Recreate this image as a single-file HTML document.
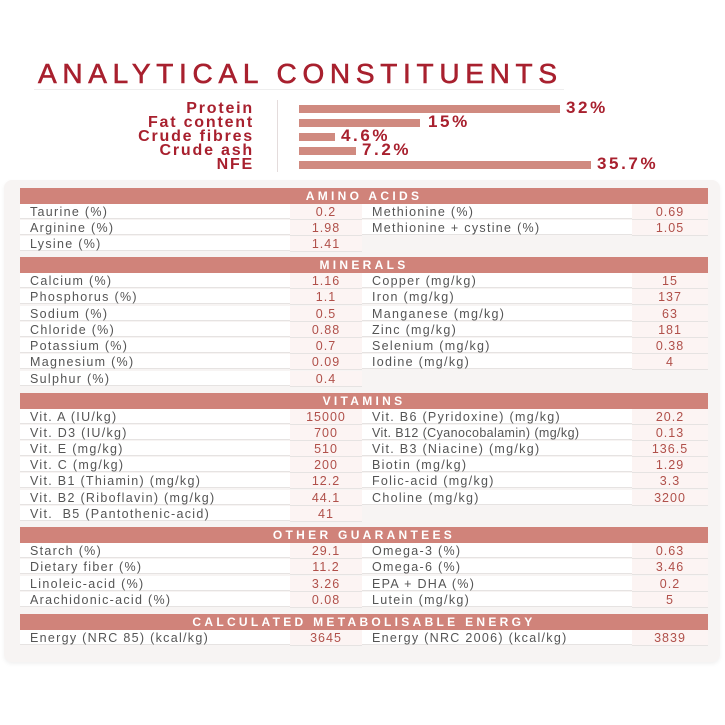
<!DOCTYPE html>
<html><head><meta charset="utf-8"><style>
body{margin:0;width:725px;height:725px;background:#fff;position:relative;overflow:hidden;font-family:"Liberation Sans",sans-serif}
.a{position:absolute}
.panel{left:4px;top:180px;width:716px;height:482px;background:#f7f4f3;border-radius:8px;box-shadow:0 2px 4px rgba(0,0,0,.06)}
.title{left:38px;top:58px;font-size:28px;color:#a8202e;letter-spacing:5.7px;white-space:nowrap;-webkit-text-stroke:0.6px #a8202e}
.uline{left:34px;top:89px;width:530px;height:1px;background:#eee}
.bl{right:471px;font-size:16px;font-weight:bold;color:#a8202e;text-align:right;line-height:14px;letter-spacing:1.8px;white-space:nowrap}
.bar{left:299px;height:8px;background:#d08a80}
.bv{font-size:17px;font-weight:bold;color:#a8202e;line-height:14px;letter-spacing:2.6px}
.hd{left:20px;width:688px;height:16px;background:#d0837a;color:#fff;font-size:12px;font-weight:bold;letter-spacing:3.3px;text-align:center;line-height:16px}
.row{left:20px;width:688px;height:16px;font-size:12.5px;color:#555;line-height:16px;letter-spacing:1.3px;white-space:nowrap}
.row div{position:absolute;top:0;height:15px;border-bottom:1px solid #e6e3e2}
.c1{left:0;width:270px;background:#fff;padding-left:10px;box-sizing:border-box}
.c2{left:270px;width:72px;background:#fcf4f3;text-align:center;color:#b0504a;letter-spacing:1px}
.c3{left:342px;width:270px;background:#fff;padding-left:10px;box-sizing:border-box}
.c4{left:612px;width:76px;background:#fcf4f3;text-align:center;color:#b0504a;letter-spacing:1px}
</style></head><body>
<div class="a panel"></div>
<div class="a title">ANALYTICAL CONSTITUENTS</div>
<div class="a uline"></div>
<div class="a" style="left:277px;top:100px;width:1px;height:72px;background:#e4dcdc"></div>
<div class="a bl" style="top:102px">Protein</div>
<div class="a bl" style="top:116px">Fat content</div>
<div class="a bl" style="top:130px">Crude fibres</div>
<div class="a bl" style="top:144px">Crude ash</div>
<div class="a bl" style="top:158px">NFE</div>
<div class="a bar" style="top:105px;width:261px"></div><div class="a bv" style="left:566px;top:101px">32%</div>
<div class="a bar" style="top:119px;width:121px"></div><div class="a bv" style="left:428px;top:115px">15%</div>
<div class="a bar" style="top:133px;width:36px"></div><div class="a bv" style="left:341px;top:129px">4.6%</div>
<div class="a bar" style="top:147px;width:57px"></div><div class="a bv" style="left:362px;top:143px">7.2%</div>
<div class="a bar" style="top:161px;width:292px"></div><div class="a bv" style="left:597px;top:157px">35.7%</div>

<div class="a hd" style="top:188px">AMINO ACIDS</div>
<div class="a row" style="top:204px"><div class="c1">Taurine (%)</div><div class="c2">0.2</div><div class="c3">Methionine (%)</div><div class="c4">0.69</div></div>
<div class="a row" style="top:220px"><div class="c1">Arginine (%)</div><div class="c2">1.98</div><div class="c3">Methionine + cystine (%)</div><div class="c4">1.05</div></div>
<div class="a row" style="top:236px"><div class="c1">Lysine (%)</div><div class="c2">1.41</div></div>

<div class="a hd" style="top:257px">MINERALS</div>
<div class="a row" style="top:273px"><div class="c1">Calcium (%)</div><div class="c2">1.16</div><div class="c3">Copper (mg/kg)</div><div class="c4">15</div></div>
<div class="a row" style="top:289px"><div class="c1">Phosphorus (%)</div><div class="c2">1.1</div><div class="c3">Iron (mg/kg)</div><div class="c4">137</div></div>
<div class="a row" style="top:306px"><div class="c1">Sodium (%)</div><div class="c2">0.5</div><div class="c3">Manganese (mg/kg)</div><div class="c4">63</div></div>
<div class="a row" style="top:322px"><div class="c1">Chloride (%)</div><div class="c2">0.88</div><div class="c3">Zinc (mg/kg)</div><div class="c4">181</div></div>
<div class="a row" style="top:338px"><div class="c1">Potassium (%)</div><div class="c2">0.7</div><div class="c3">Selenium (mg/kg)</div><div class="c4">0.38</div></div>
<div class="a row" style="top:354px"><div class="c1">Magnesium (%)</div><div class="c2">0.09</div><div class="c3">Iodine (mg/kg)</div><div class="c4">4</div></div>
<div class="a row" style="top:371px"><div class="c1">Sulphur (%)</div><div class="c2">0.4</div></div>

<div class="a hd" style="top:393px">VITAMINS</div>
<div class="a row" style="top:409px"><div class="c1">Vit. A (IU/kg)</div><div class="c2">15000</div><div class="c3">Vit. B6 (Pyridoxine) (mg/kg)</div><div class="c4">20.2</div></div>
<div class="a row" style="top:425px"><div class="c1">Vit. D3 (IU/kg)</div><div class="c2">700</div><div class="c3" style="letter-spacing:0.4px">Vit. B12 (Cyanocobalamin) (mg/kg)</div><div class="c4">0.13</div></div>
<div class="a row" style="top:441px"><div class="c1">Vit. E (mg/kg)</div><div class="c2">510</div><div class="c3">Vit. B3 (Niacine) (mg/kg)</div><div class="c4">136.5</div></div>
<div class="a row" style="top:457px"><div class="c1">Vit. C (mg/kg)</div><div class="c2">200</div><div class="c3">Biotin (mg/kg)</div><div class="c4">1.29</div></div>
<div class="a row" style="top:473px"><div class="c1">Vit. B1 (Thiamin) (mg/kg)</div><div class="c2">12.2</div><div class="c3">Folic-acid (mg/kg)</div><div class="c4">3.3</div></div>
<div class="a row" style="top:490px"><div class="c1">Vit. B2 (Riboflavin) (mg/kg)</div><div class="c2">44.1</div><div class="c3">Choline (mg/kg)</div><div class="c4">3200</div></div>
<div class="a row" style="top:506px"><div class="c1">Vit.&nbsp; B5 (Pantothenic-acid)</div><div class="c2">41</div></div>

<div class="a hd" style="top:527px">OTHER GUARANTEES</div>
<div class="a row" style="top:543px"><div class="c1">Starch (%)</div><div class="c2">29.1</div><div class="c3">Omega-3 (%)</div><div class="c4">0.63</div></div>
<div class="a row" style="top:559px"><div class="c1">Dietary fiber (%)</div><div class="c2">11.2</div><div class="c3">Omega-6 (%)</div><div class="c4">3.46</div></div>
<div class="a row" style="top:576px"><div class="c1">Linoleic-acid (%)</div><div class="c2">3.26</div><div class="c3">EPA + DHA (%)</div><div class="c4">0.2</div></div>
<div class="a row" style="top:592px"><div class="c1">Arachidonic-acid (%)</div><div class="c2">0.08</div><div class="c3">Lutein (mg/kg)</div><div class="c4">5</div></div>

<div class="a hd" style="top:614px">CALCULATED METABOLISABLE ENERGY</div>
<div class="a row" style="top:630px"><div class="c1">Energy (NRC 85) (kcal/kg)</div><div class="c2">3645</div><div class="c3">Energy (NRC 2006) (kcal/kg)</div><div class="c4">3839</div></div>
</body></html>
